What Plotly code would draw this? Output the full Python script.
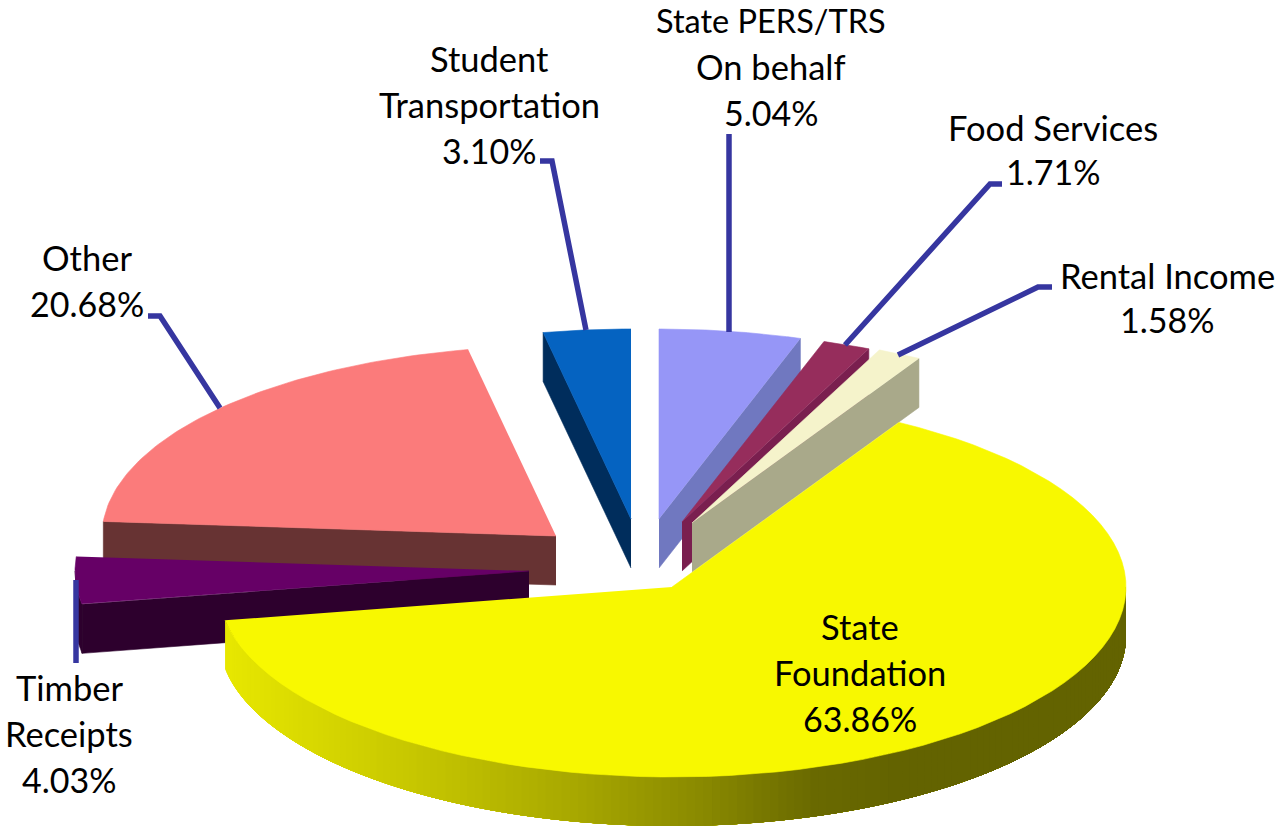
import numpy as np
import plotly.graph_objects as go

# --- data (clockwise from 12 o'clock) ---
names = ["State PERS/TRS On behalf", "Food Services", "Rental Income", "State Foundation",
         "Timber Receipts", "Other", "Student Transportation"]
values = [5.04, 1.71, 1.58, 63.86, 4.03, 20.68, 3.10]
label_lines = [["State PERS/TRS", "On behalf"], ["Food Services"], ["Rental Income"],
               ["State", "Foundation"], ["Timber", "Receipts"], ["Other"],
               ["Student", "Transportation"]]

# --- styles and layout ---
top_colors = ["#9696f7", "#962d5c", "#f5f3cb", "#f8f800", "#660066", "#fb7b7b", "#0563c1"]
side_colors = ["#7078c0", "#7a1f4f", "#a9a98a", "#636300", "#2d002d", "#673333", "#002d5c"]
apex_x = [659, 682, 692, 672, 529, 556, 631]
apex_y = [519, 522, 523, 587, 571, 536, 519]
label_x = [771, 1053, 1167, 860, 69, 87, 489]
label_y = [20, 127, 275, 626, 687, 257, 58]
line_gap = [46, 44, 44, 46, 46, 46, 46]
leader_x = [[729, 729], [1002, 990, 845], [1052, 1038, 898], None, [76, 76],
            [148, 160, 220], [540, 552, 586]]
leader_y = [[134, 332], [184, 184, 345], [287, 287, 355], None, [580, 663],
            [316, 316, 408], [161, 161, 330]]
RX, RY, DEPTH = 454, 190, 49
START = 90.0
LEADER = "#3636a0"
FONT = "Lato"
FONT_SIZE = 34.5
PCT_SIZE = 34
WIDE_LINE_SIZE = {"State PERS/TRS": 32.5}
GRAD_X = [225, 280, 450, 570, 690, 810, 900]
GRAD_C = [(232, 232, 0), (222, 222, 0), (192, 192, 0), (168, 168, 0), (140, 140, 0), (106, 106, 0), (99, 99, 0)]

fig = go.Figure()


def poly(xs, ys, color, name, edge=0.6):
    fig.add_trace(go.Scatter(x=list(xs), y=list(ys), mode="lines", fill="toself",
                             fillcolor=color, line=dict(color=color, width=edge),
                             hoverinfo="skip", name=name, showlegend=False))


def rim(ax, ay, a0, a1, n=80):
    t = np.radians(np.linspace(a0, a1, n))
    return ax + RX * np.cos(t), ay - RY * np.sin(t)


def grad_color(x):
    c = [int(np.interp(x, GRAD_X, [g[i] for g in GRAD_C])) for i in range(3)]
    return f"rgb({c[0]},{c[1]},{c[2]})"


# angular span of every slice, clockwise
total = sum(values)
spans = []
a = START
for v in values:
    b = a - v / total * 360
    spans.append((a, b))
    a = b


def draw(i):
    a0, a1 = spans[i]
    ax, ay = apex_x[i], apex_y[i]
    if a0 - a1 < 180:
        # visible cut face: the edge lying lowest on screen
        e = a0 if np.sin(np.radians(a0)) < np.sin(np.radians(a1)) else a1
        rx, ry = rim(ax, ay, e, e, 1)
        poly([ax, rx[0], rx[0], ax], [ay, ry[0], ry[0] + DEPTH, ay + DEPTH], side_colors[i], names[i] + " face")
        # front rim wall, when the slice crosses the left extreme of the ellipse
        hi, lo = max(a0 % 360, a1 % 360), min(a0 % 360, a1 % 360)
        if lo <= 180 < hi:
            xs, ys = rim(ax, ay, 180, hi, 20)
            poly(list(xs) + list(xs[::-1]), list(ys) + list(ys[::-1] + DEPTH), side_colors[i], names[i] + " wall")
    else:
        # wall with a stepped horizontal shade; each step runs under the next to hide seams
        edges = np.linspace(a1, 0, 161)
        for p in edges[:-1]:
            xs, ys = rim(ax, ay, p, 0, 60)
            poly(list(xs) + list(xs[::-1]), list(ys) + list(ys[::-1] + DEPTH),
                 grad_color(ax + RX * np.cos(np.radians(p))), names[i] + " wall", edge=0)
    xs, ys = rim(ax, ay, a0, a1)
    poly([ax] + list(xs), [ay] + list(ys), top_colors[i], names[i])


for i in [5, 6, 0, 1, 2, 4, 3]:
    draw(i)

for i in range(len(values)):
    if leader_x[i] is not None:
        fig.add_trace(go.Scatter(x=leader_x[i], y=leader_y[i], mode="lines",
                                 line=dict(color=LEADER, width=5.5, shape="linear"),
                                 hoverinfo="skip", showlegend=False))

annotations = []
for i in range(len(values)):
    pct = f"{values[i]:.2f}%"
    lines = label_lines[i] + [pct]
    for k, text in enumerate(lines):
        size = PCT_SIZE if text == pct else WIDE_LINE_SIZE.get(text, FONT_SIZE)
        annotations.append(dict(x=label_x[i], y=label_y[i] + k * line_gap[i], text=text, showarrow=False,
                                xanchor="center", yanchor="middle", xref="x", yref="y",
                                font=dict(family=FONT, size=size, color="#000000")))

fig.update_layout(width=1278, height=826, margin=dict(l=0, r=0, t=0, b=0),
                  paper_bgcolor="#ffffff", plot_bgcolor="#ffffff", showlegend=False,
                  xaxis=dict(range=[0, 1278], visible=False, fixedrange=True),
                  yaxis=dict(range=[826, 0], visible=False, fixedrange=True),
                  annotations=annotations)
fig.write_html("out.html", post_script="document.body.style.margin='0';document.body.style.overflow='hidden';",
               config={"displayModeBar": False})
